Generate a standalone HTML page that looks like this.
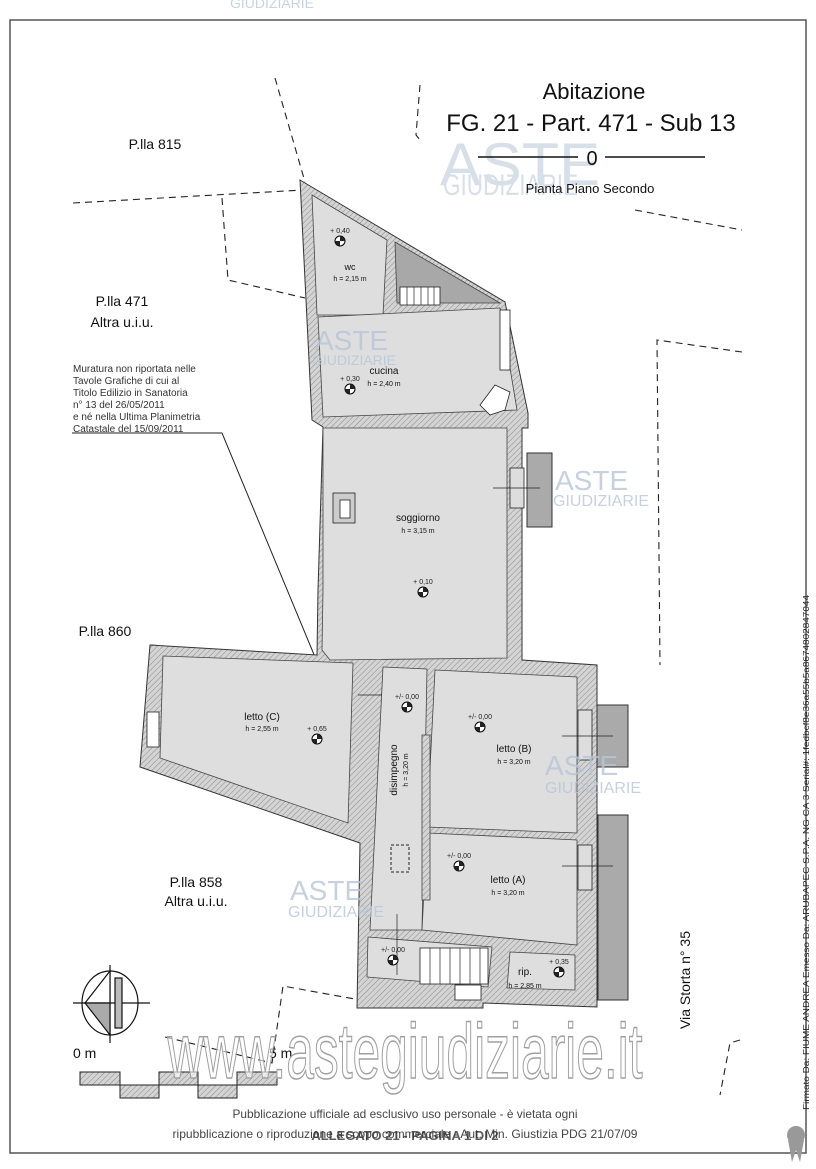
<!DOCTYPE html>
<html><head><meta charset="utf-8"><style>
body{margin:0;background:#fff;}
svg{display:block;font-family:"Liberation Sans",sans-serif;}
</style></head><body>
<svg width="816" height="1169" viewBox="0 0 816 1169" xmlns="http://www.w3.org/2000/svg">
<defs>
<pattern id="h" width="4" height="4" patternUnits="userSpaceOnUse" patternTransform="rotate(45)">
<rect width="4" height="4" fill="#d4d4d4"/><line x1="0" y1="0" x2="0" y2="4" stroke="#888" stroke-width="1"/>
</pattern>
</defs>
<rect x="0" y="0" width="816" height="1169" fill="#fff"/>
<rect x="10" y="20" width="796" height="1133" fill="none" stroke="#555" stroke-width="1.5"/>
<text x="230" y="8" font-size="14" fill="#c8d3e0">GIUDIZIARIE</text>

<g fill="none" stroke="#222" stroke-width="1.1" stroke-dasharray="7,5">
<polyline points="275,78 305,182"/>
<polyline points="420,85 416,135 420,140"/>
<polyline points="73,203 303,190"/>
<polyline points="222,198 228,280 305,298"/>
<polyline points="635,210 742,230"/>
<polyline points="742,352 657,340 660,665"/>
<polyline points="150,645 315,657"/>
<polyline points="165,1037 272,1063 283,986 360,1000"/>
<polyline points="740,1040 730,1043 720,1095"/>
</g>
<polyline points="72,433 222,433 315,657" fill="none" stroke="#222" stroke-width="1"/>

<rect x="527" y="453" width="25" height="74" fill="#aaa" stroke="#333"/>
<rect x="597" y="705" width="31" height="62" fill="#aaa" stroke="#333"/>
<rect x="598" y="815" width="30" height="185" fill="#aaa" stroke="#333"/>

<polygon points="300,180 505,302 528,413 528,428 522,428 522,660 597,665 597,1007 483,1003 483,1008 357,1008 360,843 140,767 150,645 317,655 318,590 323,427 312,420" fill="url(#h)" stroke="#333" stroke-width="1"/>

<g fill="#dedede" stroke="#444" stroke-width="0.8">
<polygon points="312,195 387,240 383,315 317,315"/>
<polygon points="395,242 500,303 397,303" fill="#a8a8a8"/>
<polygon points="318,317 500,308 517,410 323,417"/>
<polygon points="323,428 507,428 507,658 330,660 322,650 323,590"/>
<polygon points="163,656 353,663 348,823 160,758"/>
<polygon points="383,667 427,669 422,930 370,930"/>
<polygon points="435,670 577,677 577,833 427,827"/>
<polygon points="427,833 577,840 577,945 422,930"/>
<polygon points="368,937 492,947 488,987 367,977"/>
<polygon points="510,952 575,955 575,990 507,988"/>
</g>
<rect x="422" y="735" width="8" height="165" fill="url(#h)" stroke="#444" stroke-width="0.8"/>
<rect x="391" y="845" width="18" height="27" fill="none" stroke="#222" stroke-dasharray="3,2"/>
<g stroke="#222" stroke-width="0.8" fill="#fff">
<rect x="400" y="287" width="40" height="18"/>
<rect x="500" y="310" width="10" height="60"/>
<rect x="147" y="712" width="12" height="35"/>
<rect x="420" y="948" width="68" height="36"/>
<rect x="455" y="985" width="26" height="15"/>
<polygon points="480,405 495,385 510,392 505,410 490,415"/>
<rect x="333" y="493" width="22" height="30" fill="#ccc"/>
<rect x="340" y="500" width="10" height="18" fill="#fff"/>
<rect x="510" y="468" width="14" height="40" fill="#ddd"/>
<rect x="578" y="710" width="14" height="50" fill="#ddd"/>
<rect x="578" y="845" width="14" height="45" fill="#ddd"/>
</g>
<g stroke="#222" stroke-width="0.7">
<line x1="407" y1="287" x2="407" y2="305"/><line x1="414" y1="287" x2="414" y2="305"/><line x1="421" y1="287" x2="421" y2="305"/><line x1="428" y1="287" x2="428" y2="305"/><line x1="434" y1="287" x2="434" y2="305"/>
<line x1="430" y1="948" x2="430" y2="984"/><line x1="440" y1="948" x2="440" y2="984"/><line x1="450" y1="948" x2="450" y2="984"/><line x1="460" y1="948" x2="460" y2="984"/><line x1="470" y1="948" x2="470" y2="984"/><line x1="480" y1="948" x2="480" y2="984"/>
<line x1="493" y1="488" x2="540" y2="488"/>
<line x1="562" y1="736" x2="613" y2="736"/>
<line x1="562" y1="866" x2="613" y2="866"/>
<line x1="358" y1="695" x2="382" y2="695"/>
<line x1="397" y1="914" x2="397" y2="975"/>
</g>

<g font-size="7" fill="#222" text-anchor="middle">
<g transform="translate(340,241)"><circle r="5" fill="#fff" stroke="#000"/><path d="M0,0V-5A5,5 0 0 1 5,0Z M0,0V5A5,5 0 0 1 -5,0Z"/><text y="-8">+ 0,40</text></g>
<g transform="translate(350,389)"><circle r="5" fill="#fff" stroke="#000"/><path d="M0,0V-5A5,5 0 0 1 5,0Z M0,0V5A5,5 0 0 1 -5,0Z"/><text y="-8">+ 0,30</text></g>
<g transform="translate(423,592)"><circle r="5" fill="#fff" stroke="#000"/><path d="M0,0V-5A5,5 0 0 1 5,0Z M0,0V5A5,5 0 0 1 -5,0Z"/><text y="-8">+ 0,10</text></g>
<g transform="translate(317,739)"><circle r="5" fill="#fff" stroke="#000"/><path d="M0,0V-5A5,5 0 0 1 5,0Z M0,0V5A5,5 0 0 1 -5,0Z"/><text y="-8">+ 0,65</text></g>
<g transform="translate(407,707)"><circle r="5" fill="#fff" stroke="#000"/><path d="M0,0V-5A5,5 0 0 1 5,0Z M0,0V5A5,5 0 0 1 -5,0Z"/><text y="-8">+/- 0,00</text></g>
<g transform="translate(480,727)"><circle r="5" fill="#fff" stroke="#000"/><path d="M0,0V-5A5,5 0 0 1 5,0Z M0,0V5A5,5 0 0 1 -5,0Z"/><text y="-8">+/- 0,00</text></g>
<g transform="translate(459,866)"><circle r="5" fill="#fff" stroke="#000"/><path d="M0,0V-5A5,5 0 0 1 5,0Z M0,0V5A5,5 0 0 1 -5,0Z"/><text y="-8">+/- 0,00</text></g>
<g transform="translate(393,960)"><circle r="5" fill="#fff" stroke="#000"/><path d="M0,0V-5A5,5 0 0 1 5,0Z M0,0V5A5,5 0 0 1 -5,0Z"/><text y="-8">+/- 0,00</text></g>
<g transform="translate(559,972)"><circle r="5" fill="#fff" stroke="#000"/><path d="M0,0V-5A5,5 0 0 1 5,0Z M0,0V5A5,5 0 0 1 -5,0Z"/><text y="-8">+ 0,35</text></g>
</g>

<g fill="#111" text-anchor="middle">
<text x="350" y="270" font-size="9">wc</text><text x="350" y="281" font-size="7">h = 2,15 m</text>
<text x="384" y="374" font-size="10">cucina</text><text x="384" y="386" font-size="7">h = 2,40 m</text>
<text x="418" y="521" font-size="10">soggiorno</text><text x="418" y="533" font-size="7">h = 3,15 m</text>
<text x="262" y="720" font-size="10">letto (C)</text><text x="262" y="731" font-size="7">h = 2,55 m</text>
<text x="514" y="752" font-size="10">letto (B)</text><text x="514" y="764" font-size="7">h = 3,20 m</text>
<text x="508" y="883" font-size="10">letto (A)</text><text x="508" y="895" font-size="7">h = 3,20 m</text>
<text x="525" y="975" font-size="10">rip.</text><text x="525" y="988" font-size="7">h = 2,85 m</text>
<text transform="translate(397,770) rotate(-90)" font-size="10">disimpegno</text>
<text transform="translate(408,770) rotate(-90)" font-size="7">h = 3,20 m</text>
</g>

<g fill="#b7c6d8" opacity="0.55">
<text x="440" y="185" font-size="60" textLength="160" lengthAdjust="spacingAndGlyphs">ASTE</text>
<text x="443" y="195" font-size="30" textLength="135" lengthAdjust="spacingAndGlyphs">GIUDIZIARIE</text>
</g>
<g fill="#b7c6d8" opacity="0.8">
<text x="315" y="350" font-size="28">ASTE</text><text x="312" y="365" font-size="14">GIUDIZIARIE</text>
<text x="555" y="490" font-size="28">ASTE</text><text x="553" y="506" font-size="16">GIUDIZIARIE</text>
<text x="545" y="775" font-size="28">ASTE</text><text x="545" y="793" font-size="16">GIUDIZIARIE</text>
<text x="290" y="900" font-size="28">ASTE</text><text x="288" y="917" font-size="16">GIUDIZIARIE</text>
</g>

<g fill="#111" text-anchor="middle">
<text x="594" y="99" font-size="22">Abitazione</text>
<text x="591" y="131" font-size="24">FG. 21 - Part. 471 - Sub 13</text>
<text x="592" y="165" font-size="20">0</text>
<text x="590" y="193" font-size="13">Pianta Piano Secondo</text>
</g>
<line x1="478" y1="157" x2="578" y2="157" stroke="#111" stroke-width="1.5"/>
<line x1="605" y1="157" x2="705" y2="157" stroke="#111" stroke-width="1.5"/>

<g fill="#111" font-size="14" text-anchor="middle">
<text x="155" y="149">P.lla 815</text>
<text x="122" y="306">P.lla 471</text><text x="122" y="327">Altra u.i.u.</text>
<text x="105" y="636">P.lla 860</text>
<text x="196" y="887">P.lla 858</text><text x="196" y="906">Altra u.i.u.</text>
<text transform="translate(690,980) rotate(-90)">Via Storta n° 35</text>
</g>
<g fill="#333" font-size="10">
<text x="73" y="372">Muratura non riportata nelle</text>
<text x="73" y="384">Tavole Grafiche di cui al</text>
<text x="73" y="396">Titolo Edilizio in Sanatoria</text>
<text x="73" y="408">n° 13 del 26/05/2011</text>
<text x="73" y="420">e né nella Ultima Planimetria</text>
<text x="73" y="432">Catastale del 15/09/2011</text>
</g>

<g stroke="#111" fill="none" stroke-width="1.2">
<ellipse cx="110" cy="1003" rx="28" ry="32"/>
<line x1="73" y1="1003" x2="150" y2="1003"/>
<line x1="110" y1="965" x2="110" y2="1043"/>
<polygon points="110,1003 110,971 85,1003" fill="#fff"/>
<polygon points="110,1003 110,1035 85,1003" fill="#aaa"/>
<rect x="115" y="978" width="7" height="50" fill="#bbb"/>
</g>
<g fill="#111" font-size="14"><text x="73" y="1058">0 m</text><text x="269" y="1058">5 m</text></g>
<g stroke="#222" fill="url(#h)">
<rect x="80" y="1072" width="40" height="13"/><rect x="120" y="1085" width="39" height="13"/>
<rect x="159" y="1072" width="39" height="13"/><rect x="198" y="1085" width="39" height="13"/>
<rect x="237" y="1072" width="40" height="13"/>
</g>

<text x="405" y="1078" font-size="78" text-anchor="middle" fill="#fff" fill-opacity="0.6" stroke="#a0a0a0" stroke-width="1.5" textLength="475" lengthAdjust="spacingAndGlyphs">www.astegiudiziarie.it</text>

<g fill="#444" font-size="12" text-anchor="middle">
<text x="405" y="1118" textLength="345" lengthAdjust="spacingAndGlyphs">Pubblicazione ufficiale ad esclusivo uso personale - è vietata ogni</text>
<text x="405" y="1138" textLength="465" lengthAdjust="spacingAndGlyphs">ripubblicazione o riproduzione a scopo commerciale - Aut. Min. Giustizia PDG 21/07/09</text>
</g>
<text x="405" y="1140" font-size="13" font-weight="bold" text-anchor="middle" fill="#333" opacity="0.8">ALLEGATO 21 - PAGINA 1 DI 2</text>

<text transform="translate(809,1110) rotate(-90)" font-size="8" fill="#222" textLength="515" lengthAdjust="spacingAndGlyphs">Firmato Da: FIUME ANDREA Emesso Da: ARUBAPEC S.P.A. NG CA 3 Serial#: 1fedbcf8e36a55b5a8674802847044</text>
<g fill="#999"><circle cx="796" cy="1135" r="9"/><polygon points="788,1140 792,1162 796,1150 800,1162 804,1140"/></g>
</svg>
</body></html>
